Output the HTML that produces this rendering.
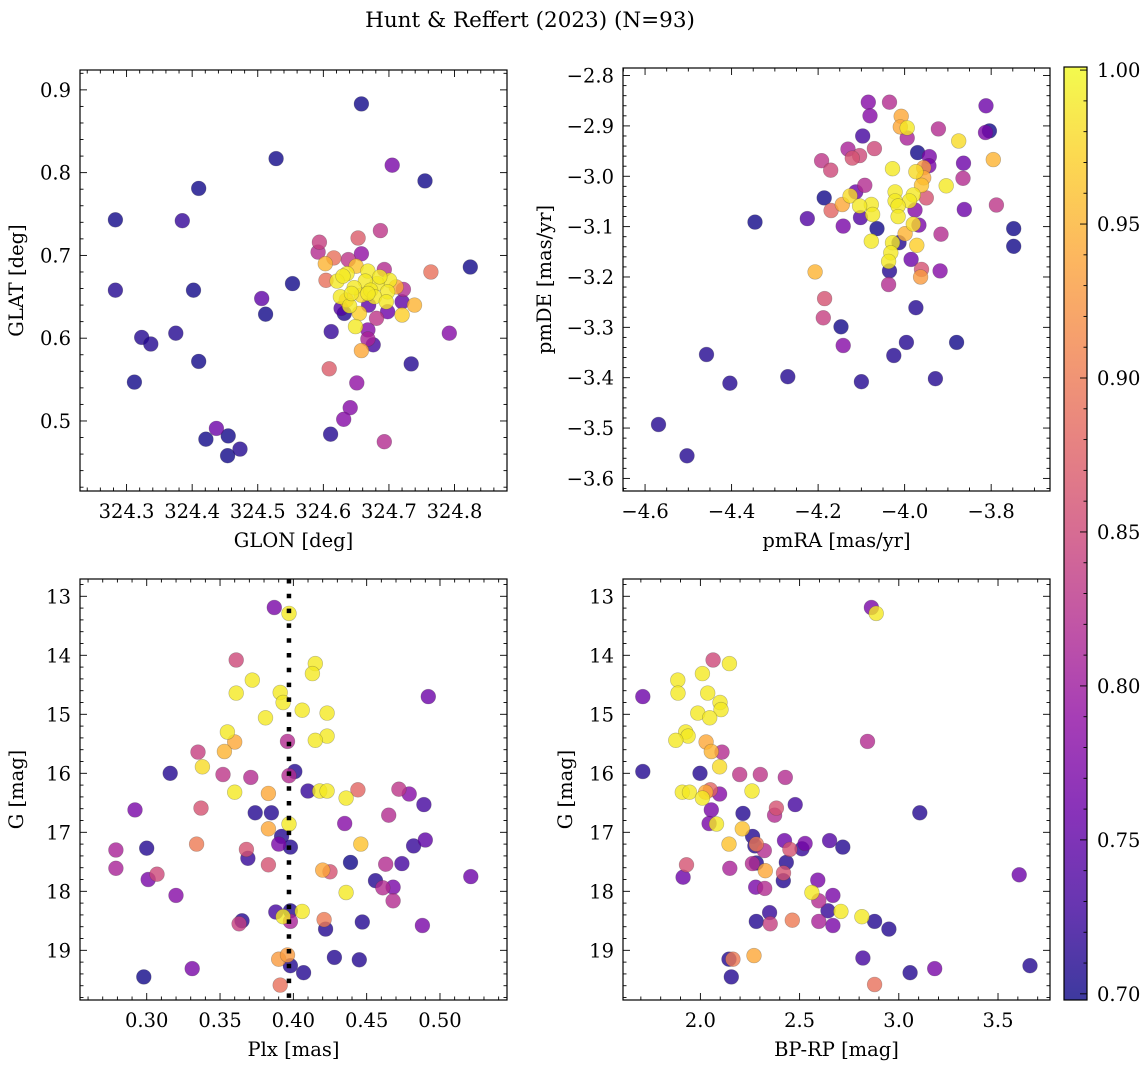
<!DOCTYPE html>
<html><head><meta charset="utf-8">
<style>
html,body{margin:0;padding:0;background:#fff;}
svg{display:block;font-family:"DejaVu Serif","Liberation Serif",serif;}
</style></head>
<body>
<svg id="fig" width="1148" height="1067" viewBox="0 0 1148 1067" xmlns="http://www.w3.org/2000/svg">
<text x="530" y="27" text-anchor="middle" font-size="21.5">Hunt &amp; Reffert (2023) (N=93)</text>
<defs>
<linearGradient id="cbgrad" x1="0" y1="1" x2="0" y2="0">
<stop offset="0" stop-color="#0d0887"/><stop offset="0.1" stop-color="#41049d"/><stop offset="0.2" stop-color="#6a00a8"/><stop offset="0.3" stop-color="#8f0da4"/><stop offset="0.4" stop-color="#b12a90"/><stop offset="0.5" stop-color="#cc4778"/><stop offset="0.6" stop-color="#e16462"/><stop offset="0.7" stop-color="#f2844b"/><stop offset="0.8" stop-color="#fca636"/><stop offset="0.9" stop-color="#fcce25"/><stop offset="1" stop-color="#f0f921"/>
</linearGradient>
</defs>
<g id="layer"></g>
</svg>
<script>
// ---- Panel 1: GLON / GLAT ----
const p1Glon=[324.658,324.528,324.705,324.755,324.410,324.283,324.385,324.687,324.653,324.594,324.592,324.658,324.616,324.638,324.603,324.650,324.693,324.668,324.764,324.824,324.636,324.604,324.621,324.701,324.682,324.664,324.553,324.647,324.722,324.711,324.672,324.698,324.402,324.283,324.626,324.678,324.658,324.506,324.696,324.720,324.739,324.640,324.669,324.627,324.632,324.698,324.655,324.720,324.681,324.512,324.649,324.612,324.668,324.792,324.375,324.323,324.337,324.668,324.676,324.658,324.410,324.734,324.609,324.312,324.651,324.641,324.631,324.437,324.611,324.455,324.421,324.693,324.473,324.454,324.630,324.668,324.643,324.686,324.635];
const p1Glat=[0.883,0.817,0.809,0.790,0.781,0.743,0.742,0.730,0.721,0.716,0.704,0.702,0.697,0.695,0.690,0.687,0.683,0.681,0.680,0.686,0.678,0.670,0.669,0.670,0.666,0.669,0.666,0.661,0.659,0.662,0.658,0.656,0.658,0.658,0.650,0.650,0.652,0.648,0.644,0.644,0.640,0.639,0.640,0.636,0.630,0.632,0.630,0.628,0.624,0.629,0.614,0.608,0.610,0.606,0.606,0.601,0.593,0.599,0.592,0.585,0.572,0.569,0.563,0.547,0.546,0.516,0.502,0.491,0.484,0.482,0.478,0.475,0.466,0.458,0.675,0.654,0.654,0.674,0.646];
const p1Prob=[0.70,0.70,0.77,0.70,0.70,0.70,0.72,0.83,0.87,0.84,0.82,0.79,0.89,0.83,0.95,0.96,0.82,0.99,0.89,0.70,0.99,0.89,0.99,0.99,0.99,0.99,0.70,0.99,0.82,0.94,0.99,0.99,0.70,0.71,0.99,0.99,0.98,0.75,0.99,0.75,0.95,0.99,0.75,0.74,0.71,0.76,0.97,0.97,0.83,0.70,0.99,0.72,0.78,0.78,0.71,0.71,0.71,0.81,0.73,0.94,0.70,0.71,0.87,0.70,0.79,0.78,0.78,0.76,0.71,0.70,0.70,0.82,0.71,0.70,0.99,0.99,0.99,0.99,0.95];
const p1XTicks=[324.3,324.4,324.5,324.6,324.7,324.8];
const p1YTicks=[0.5,0.6,0.7,0.8,0.9];

// ---- Panel 2: pmRA / pmDE ----
const p2PmRA=[-4.084,-4.035,-3.812,-4.080,-4.008,-4.010,-3.994,-3.922,-3.804,-3.813,-3.994,-4.097,-3.875,-4.131,-4.070,-3.970,-4.104,-4.121,-3.943,-3.795,-4.192,-3.864,-3.944,-4.171,-4.028,-3.956,-3.974,-3.956,-3.865,-3.961,-4.092,-3.904,-4.113,-4.022,-4.126,-3.980,-4.186,-3.950,-3.989,-4.022,-4.144,-4.077,-4.015,-3.788,-4.104,-3.976,-4.170,-3.862,-4.074,-4.015,-4.225,-4.102,-4.346,-3.980,-3.967,-4.142,-4.064,-3.748,-3.916,-3.999,-4.077,-4.013,-4.028,-3.972,-3.748,-4.032,-4.037,-3.985,-4.207,-4.035,-3.961,-3.918,-3.963,-4.037,-4.185,-3.974,-4.188,-4.147,-3.996,-3.880,-4.142,-4.025,-4.458,-4.270,-3.929,-4.404,-4.100,-4.569,-4.503];
const p2PmDE=[-2.853,-2.853,-2.860,-2.880,-2.881,-2.902,-2.904,-2.906,-2.910,-2.913,-2.924,-2.920,-2.930,-2.946,-2.945,-2.953,-2.959,-2.964,-2.961,-2.967,-2.969,-2.974,-2.979,-2.988,-2.985,-2.983,-2.991,-3.003,-3.004,-3.018,-3.018,-3.019,-3.031,-3.031,-3.039,-3.037,-3.043,-3.043,-3.049,-3.049,-3.056,-3.056,-3.059,-3.057,-3.059,-3.067,-3.068,-3.066,-3.076,-3.080,-3.084,-3.082,-3.091,-3.095,-3.097,-3.099,-3.104,-3.104,-3.115,-3.114,-3.129,-3.132,-3.132,-3.137,-3.139,-3.152,-3.169,-3.165,-3.190,-3.188,-3.185,-3.188,-3.200,-3.215,-3.243,-3.261,-3.281,-3.299,-3.330,-3.330,-3.336,-3.356,-3.354,-3.398,-3.402,-3.411,-3.408,-3.493,-3.555];
const p2Prob=[0.78,0.82,0.76,0.78,0.94,0.94,0.99,0.82,0.70,0.77,0.81,0.73,0.98,0.81,0.85,0.70,0.85,0.86,0.77,0.95,0.83,0.76,0.77,0.85,0.99,0.93,0.98,0.94,0.82,0.96,0.82,0.99,0.76,0.99,0.98,0.99,0.70,0.86,0.99,0.99,0.94,0.99,0.99,0.83,0.99,0.78,0.88,0.76,0.99,0.99,0.74,0.74,0.70,0.98,0.77,0.77,0.70,0.70,0.82,0.95,0.99,0.71,0.99,0.97,0.70,0.99,0.99,0.76,0.95,0.71,0.86,0.78,0.93,0.82,0.86,0.71,0.84,0.70,0.71,0.70,0.78,0.71,0.71,0.71,0.71,0.71,0.71,0.71,0.71];
const p2XTicks=[-4.6,-4.4,-4.2,-4.0,-3.8];
const p2YTicks=[-3.6,-3.5,-3.4,-3.3,-3.2,-3.1,-3.0,-2.9,-2.8];

// ---- Panel 3: Plx / G ----
const p3Plx=[0.387,0.397,0.361,0.415,0.413,0.372,0.361,0.391,0.393,0.492,0.406,0.423,0.381,0.355,0.423,0.415,0.360,0.396,0.353,0.335,0.338,0.316,0.352,0.401,0.397,0.371,0.383,0.360,0.410,0.418,0.423,0.444,0.472,0.479,0.436,0.292,0.337,0.374,0.385,0.489,0.465,0.397,0.435,0.383,0.392,0.390,0.398,0.279,0.300,0.334,0.368,0.369,0.446,0.482,0.490,0.383,0.279,0.439,0.463,0.474,0.420,0.425,0.307,0.301,0.456,0.461,0.468,0.521,0.320,0.436,0.468,0.388,0.398,0.406,0.393,0.398,0.365,0.363,0.421,0.422,0.447,0.488,0.390,0.396,0.428,0.445,0.398,0.331,0.407,0.298,0.391];
const p3G=[13.19,13.29,14.08,14.14,14.31,14.42,14.64,14.63,14.80,14.70,14.93,14.98,15.06,15.30,15.37,15.44,15.47,15.46,15.63,15.64,15.89,16.00,16.02,15.97,16.04,16.07,16.34,16.32,16.30,16.30,16.30,16.28,16.27,16.35,16.42,16.62,16.59,16.67,16.67,16.53,16.71,16.86,16.85,16.94,17.07,17.20,17.25,17.30,17.27,17.20,17.29,17.44,17.20,17.23,17.13,17.55,17.61,17.51,17.54,17.53,17.64,17.67,17.71,17.80,17.82,17.94,17.93,17.75,18.07,18.02,18.16,18.35,18.33,18.34,18.43,18.51,18.50,18.55,18.48,18.64,18.52,18.58,19.15,19.08,19.12,19.16,19.26,19.31,19.38,19.45,19.59];
const p3Prob=[0.77,0.99,0.85,0.99,0.99,0.99,0.99,0.99,0.99,0.76,0.99,0.99,0.99,0.99,0.99,0.99,0.94,0.82,0.95,0.84,0.98,0.71,0.83,0.71,0.82,0.82,0.94,0.99,0.72,0.99,0.99,0.88,0.83,0.78,0.99,0.77,0.86,0.71,0.71,0.73,0.82,0.99,0.78,0.94,0.71,0.77,0.71,0.81,0.71,0.90,0.86,0.72,0.96,0.72,0.75,0.86,0.81,0.70,0.82,0.73,0.94,0.86,0.85,0.77,0.71,0.82,0.77,0.76,0.78,0.99,0.82,0.73,0.71,0.99,0.99,0.81,0.71,0.84,0.90,0.71,0.71,0.77,0.93,0.93,0.71,0.71,0.71,0.77,0.71,0.70,0.89];
const p3XTicks=[0.30,0.35,0.40,0.45,0.50];
const p3YTicks=[13,14,15,16,17,18,19];
const p3LineValue=0.397;

// ---- Panel 4: BP-RP / G ----
const p4Color=[2.862,2.886,2.064,2.146,2.010,1.886,1.887,2.037,1.710,2.099,2.104,1.987,2.047,1.926,1.938,1.876,2.842,2.029,2.055,2.109,2.097,1.710,1.998,2.198,2.302,2.428,1.909,1.945,2.050,2.027,2.097,2.010,2.260,2.478,3.106,2.215,2.055,2.383,2.374,2.044,2.081,2.211,2.263,2.144,2.282,2.275,2.322,2.424,2.528,2.512,2.451,2.651,2.718,1.930,1.913,2.148,2.262,2.282,2.433,2.327,2.419,2.418,2.592,3.607,2.279,2.324,2.562,2.668,2.597,2.643,2.349,2.708,2.814,2.282,2.352,2.463,2.597,2.668,2.878,2.950,2.144,2.164,2.270,2.819,2.156,3.057,3.181,3.661,2.878];
const p4G=[13.19,13.29,14.08,14.14,14.31,14.42,14.64,14.64,14.70,14.80,14.92,14.98,15.06,15.30,15.37,15.44,15.46,15.47,15.63,15.64,15.89,15.97,16.00,16.02,16.02,16.07,16.32,16.32,16.28,16.32,16.35,16.42,16.30,16.53,16.67,16.68,16.62,16.59,16.71,16.85,16.86,16.94,17.07,17.20,17.20,17.23,17.31,17.14,17.19,17.28,17.29,17.14,17.25,17.55,17.76,17.61,17.53,17.52,17.51,17.65,17.69,17.82,17.81,17.72,17.93,17.95,18.02,18.07,18.16,18.33,18.36,18.34,18.43,18.51,18.55,18.49,18.51,18.58,18.51,18.64,19.15,19.15,19.09,19.13,19.45,19.38,19.31,19.26,19.58];
const p4Prob=[0.77,0.99,0.85,0.99,0.99,0.99,0.99,0.99,0.76,0.99,0.99,0.99,0.99,0.99,0.99,0.99,0.82,0.94,0.95,0.82,0.98,0.71,0.71,0.83,0.83,0.82,0.99,0.99,0.88,0.94,0.78,0.99,0.99,0.73,0.71,0.71,0.77,0.86,0.82,0.77,0.99,0.96,0.71,0.96,0.90,0.71,0.82,0.76,0.77,0.72,0.86,0.74,0.71,0.86,0.76,0.81,0.82,0.71,0.71,0.94,0.86,0.71,0.77,0.76,0.77,0.82,0.99,0.77,0.82,0.72,0.72,0.99,0.99,0.71,0.84,0.90,0.81,0.77,0.71,0.71,0.71,0.90,0.94,0.73,0.71,0.71,0.77,0.71,0.89];
const p4XTicks=[2.0,2.5,3.0,3.5];
const p4YTicks=[13,14,15,16,17,18,19];

// ---- Colorbar ----
const cbTicks=[0.70,0.75,0.80,0.85,0.90,0.95,1.00];
const cbMin=0.698, cbMax=1.001;

const FS=19.5;
const NS="http://www.w3.org/2000/svg";
const layer=document.getElementById('layer');
function mk(tag,attrs,parent){const e=document.createElementNS(NS,tag);for(const k in attrs)e.setAttribute(k,attrs[k]);(parent||layer).appendChild(e);return e;}
const stops=[[13,8,135],[65,4,157],[106,0,168],[143,13,164],[177,42,144],[204,71,120],[225,100,98],[242,132,75],[252,166,54],[252,206,37],[240,249,33]];
function plasma(p){let t=(p-cbMin)/(cbMax-cbMin);t=Math.max(0,Math.min(1,t))*10;const i=Math.min(9,Math.floor(t)),f=t-i;const a=stops[i],b=stops[i+1];return 'rgb('+[0,1,2].map(k=>Math.round(a[k]+(b[k]-a[k])*f)).join(',')+')';}
function fmt(v,d){return (v<0?'\u2212':'')+Math.abs(v).toFixed(d);}

function panel(cfg){
  const g=mk('g',{});
  
  
  const sx=v=>cfg.x0+(v-cfg.xmin)/(cfg.xmax-cfg.xmin)*(cfg.x1-cfg.x0);
  const sy=v=>cfg.inv? cfg.y0+(v-cfg.ymin)/(cfg.ymax-cfg.ymin)*(cfg.y1-cfg.y0) : cfg.y1-(v-cfg.ymin)/(cfg.ymax-cfg.ymin)*(cfg.y1-cfg.y0);
  const idx=cfg.xs.map((_,i)=>i).sort((a,b)=>cfg.ps[a]-cfg.ps[b]);
  const pg=mk('g',{},g);
  
  
  idx.forEach(i=>{
    const c=mk('circle',{cx:sx(cfg.xs[i]).toFixed(1),cy:sy(cfg.ys[i]).toFixed(1),r:7.4,fill:plasma(cfg.ps[i]),'fill-opacity':0.8,stroke:'rgba(60,60,60,0.35)','stroke-width':0.6},pg);
    
    
  });
  if(cfg.vline!==undefined){
    const l=mk('line',{x1:sx(cfg.vline),x2:sx(cfg.vline),y1:cfg.y0,y2:cfg.y1,stroke:'#000','stroke-width':4.5,'stroke-dasharray':'4.5 10.3'},g);
    
    
  }
  const tg=mk('g',{stroke:'#000','stroke-width':0.9},g);
  
  
  const eps=1e-9;
  for(let v=Math.ceil(cfg.xmin/cfg.xminor-eps)*cfg.xminor; v<=cfg.xmax; v+=cfg.xminor){
    const maj=Math.abs(v/cfg.xmajor-Math.round(v/cfg.xmajor))<1e-6; const L=maj?7:3.5; const x=sx(v);
    mk('line',{x1:x,x2:x,y1:cfg.y1,y2:cfg.y1-L},tg); mk('line',{x1:x,x2:x,y1:cfg.y0,y2:cfg.y0+L},tg);
  }
  for(let v=Math.ceil(cfg.ymin/cfg.yminor-eps)*cfg.yminor; v<=cfg.ymax; v+=cfg.yminor){
    const maj=Math.abs(v/cfg.ymajor-Math.round(v/cfg.ymajor))<1e-6; const L=maj?7:3.5; const y=sy(v);
    mk('line',{x1:cfg.x0,x2:cfg.x0+L,y1:y,y2:y},tg); mk('line',{x1:cfg.x1,x2:cfg.x1-L,y1:y,y2:y},tg);
  }
  const fr=mk('rect',{x:cfg.x0,y:cfg.y0,width:cfg.x1-cfg.x0,height:cfg.y1-cfg.y0,fill:'none',stroke:'#000','stroke-width':1.2},g);
  
  
  cfg.xticks.forEach(v=>{
    const t=mk('text',{x:sx(v),y:cfg.y1+27,'text-anchor':'middle','font-size':FS},g);
    t.textContent=fmt(v,cfg.xd);
    
    
  });
  cfg.yticks.forEach(v=>{
    const t=mk('text',{x:cfg.x0-9,y:sy(v)+7,'text-anchor':'end','font-size':FS},g);
    t.textContent=fmt(v,cfg.yd);
    
    
  });
  const xt=mk('text',{x:(cfg.x0+cfg.x1)/2,y:cfg.y1+56,'text-anchor':'middle','font-size':FS},g);
  xt.textContent=cfg.xlabel;
  
  
  const yx=cfg.ylx, yy=(cfg.y0+cfg.y1)/2;
  const yt=mk('text',{x:yx,y:yy,'text-anchor':'middle','font-size':FS,transform:'rotate(-90 '+yx+' '+yy+')'},g);
  yt.textContent=cfg.ylabel;
  
  
}

panel({name:'glon-glat-panel',xs:p1Glon,ys:p1Glat,ps:p1Prob,x0:80,x1:507,y0:70,y1:491,xmin:324.229,xmax:324.880,ymin:0.4154,ymax:0.924,xmajor:0.1,xminor:0.02,ymajor:0.1,yminor:0.02,xticks:p1XTicks,yticks:p1YTicks,xd:1,yd:1,xlabel:'GLON [deg]',ylabel:'GLAT [deg]',ylx:23});
panel({name:'proper-motion-panel',xs:p2PmRA,ys:p2PmDE,ps:p2Prob,x0:623,x1:1050,y0:68,y1:491,xmin:-4.651,xmax:-3.664,ymin:-3.625,ymax:-2.785,xmajor:0.2,xminor:0.05,ymajor:0.1,yminor:0.02,xticks:p2XTicks,yticks:p2YTicks,xd:1,yd:1,xlabel:'pmRA [mas/yr]',ylabel:'pmDE [mas/yr]',ylx:551});
panel({name:'parallax-panel',xs:p3Plx,ys:p3G,ps:p3Prob,inv:true,vline:p3LineValue,x0:80,x1:507,y0:579,y1:1000,xmin:0.2545,xmax:0.5457,ymin:12.707,ymax:19.842,xmajor:0.05,xminor:0.01,ymajor:1,yminor:0.2,xticks:p3XTicks,yticks:p3YTicks,xd:2,yd:0,xlabel:'Plx [mas]',ylabel:'G [mag]',ylx:23});
panel({name:'cmd-panel',xs:p4Color,ys:p4G,ps:p4Prob,inv:true,x0:623,x1:1050,y0:579,y1:1000,xmin:1.610,xmax:3.762,ymin:12.707,ymax:19.842,xmajor:0.5,xminor:0.1,ymajor:1,yminor:0.2,xticks:p4XTicks,yticks:p4YTicks,xd:1,yd:0,xlabel:'BP-RP [mag]',ylabel:'G [mag]',ylx:572});

(function(){
  const g=mk('g',{});
  
  
  const x0=1064,x1=1087,y0=67,y1=1000;
  const sy=v=>y1-(v-cbMin)/(cbMax-cbMin)*(y1-y0);
  mk('rect',{x:x0,y:y0,width:x1-x0,height:y1-y0,fill:'url(#cbgrad)','fill-opacity':0.8},g);
  for(let k=70;k<=100;k++){const v=k/100;const y=sy(v);const L=(k%5===0)?7:3.5;
    mk('line',{x1:x1,x2:x1-L,y1:y,y2:y,stroke:'#000','stroke-width':0.9},g);}
  const fr=mk('rect',{x:x0,y:y0,width:x1-x0,height:y1-y0,fill:'none',stroke:'#000','stroke-width':1.2},g);
  
  
  cbTicks.forEach(v=>{
    const t=mk('text',{x:x1+10,y:sy(v)+7,'font-size':FS},g);
    t.textContent=v.toFixed(2);
    
    
  });
})();
</script>
</body></html>
